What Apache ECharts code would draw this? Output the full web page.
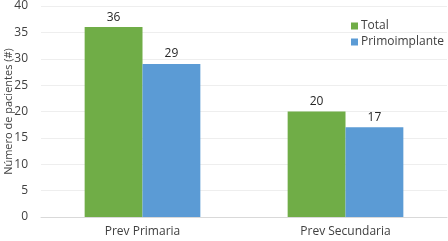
<!DOCTYPE html>
<html>
<head>
<meta charset="utf-8">
<script src="https://cdn.jsdelivr.net/npm/echarts@6/dist/echarts.min.js"></script>
<style>
  html, body { margin: 0; padding: 0; background: #fff; }
  #main { width: 448px; height: 241px; }
</style>
</head>
<body>
<div id="main"></div>
<script>
var categories = ["Prev Primaria", "Prev Secundaria"];
var totalValues = [36, 20];
var primoValues = [29, 17];
var yTicks = [0, 5, 10, 15, 20, 25, 30, 35, 40];

var chart = echarts.init(document.getElementById("main"));
var font = "'Open Sans', sans-serif";
var option = {
    animation: false,
    backgroundColor: "#fff",
    textStyle: { fontFamily: font },
    grid: { left: 41, right: 1, top: 6, bottom: 24, outerBoundsMode: "none" },
    legend: {
        orient: "vertical",
        left: 346,
        top: 15,
        itemWidth: 7,
        itemHeight: 7,
        itemGap: 4,
        icon: "rect",
        textStyle: { fontSize: 12, color: "#404040", fontFamily: font, padding: [0, 0, 0, -2] },
        data: ["Total", "Primoimplante"]
    },
    xAxis: {
        type: "category",
        data: categories,
        axisLine: { show: true, lineStyle: { color: "#d9d9d9" } },
        axisTick: { show: false },
        axisLabel: { color: "#404040", fontSize: 12, margin: 9, fontFamily: font }
    },
    yAxis: {
        type: "value",
        min: yTicks[0],
        max: yTicks[yTicks.length - 1],
        interval: 5,
        name: "Número de pacientes (#)",
        nameLocation: "middle",
        nameGap: 32,
        nameMoveOverlap: false,
        nameTextStyle: { color: "#404040", fontSize: 11, fontFamily: font, verticalAlign: "middle" },
        axisLine: { show: false },
        axisTick: { show: false },
        axisLabel: { color: "#404040", fontSize: 12, margin: 13, fontFamily: font },
        splitLine: { lineStyle: { color: "#eeeeee" } }
    },
    series: [
        {
            name: "Total",
            type: "bar",
            data: totalValues,
            barGap: 0,
            barCategoryGap: "43%",
            itemStyle: { color: "#70ad47" },
            label: { show: true, position: "top", color: "#262626", fontSize: 12, distance: 4 }
        },
        {
            name: "Primoimplante",
            type: "bar",
            data: primoValues,
            itemStyle: { color: "#5b9bd5" },
            label: { show: true, position: "top", color: "#262626", fontSize: 12, distance: 4 }
        }
    ]
};
chart.setOption(option);
</script>
</body>
</html>
